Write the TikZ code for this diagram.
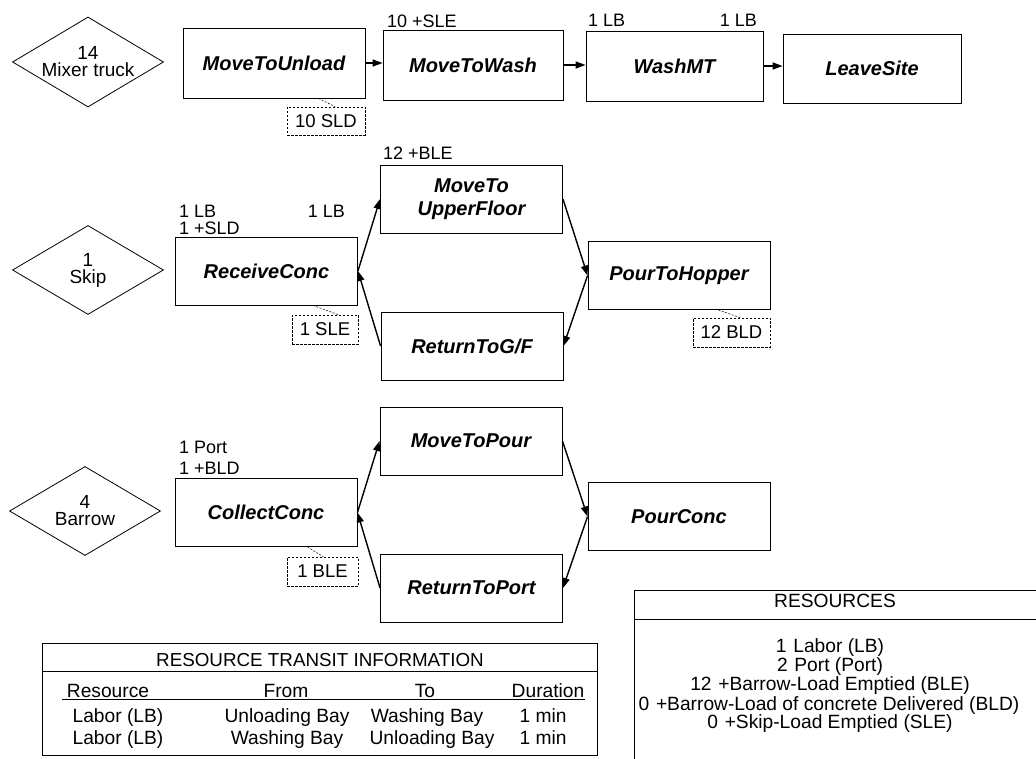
\documentclass[tikz,border=0pt]{standalone}
\usepackage{fontspec}
\setmainfont{Liberation Sans}
\usetikzlibrary{arrows.meta,shapes.geometric}
\begin{document}
\begin{tikzpicture}[x=1pt,y=-1pt,
  font=\fontsize{18}{19}\selectfont,
  act/.style={draw, line width=0.9pt, minimum width=182pt, minimum height=68pt, inner sep=0pt,
    font=\fontsize{20}{23}\selectfont\bfseries\itshape, align=center},
  res/.style={draw, line width=0.6pt, dash pattern=on 2.5pt off 1.5pt, inner sep=0pt, minimum height=29pt,
    font=\fontsize{18.5}{20}\selectfont},
  qnode/.style={draw, diamond, aspect=1.66, line width=0.8pt, minimum width=151pt, minimum height=90pt,
    inner sep=0pt, align=center, font=\fontsize{19}{20}\selectfont},
  arr/.style={line width=1.4pt, -{Triangle[length=10pt,width=7pt]}},
  tie/.style={line width=0.5pt, dash pattern=on 2pt off 1.5pt},
  lbl/.style={inner sep=0pt, anchor=base west},
  cell/.style={inner sep=0pt, anchor=base, font=\fontsize{19.2}{20}\selectfont},
  frame/.style={line width=0.8pt},
]
\useasboundingbox (0,0) rectangle (1036,759);

% resource queues
\node[qnode] (mix) at (88,62) {14\\[-3pt]Mixer truck};
\node[qnode, minimum height=89pt] (skip) at (88,270) {1\\[-3pt]Skip};
\node[qnode, minimum height=89pt] (bar) at (85,511) {4\\[-3pt]Barrow};

% row 1
\node[act, minimum height=70pt] (mtu) at (274,63) {MoveToUnload};
\node[act, minimum height=70pt, minimum width=180pt] (mtw) at (473,65) {MoveToWash};
\node[act, minimum height=70pt, minimum width=177pt] (wmt) at (674.5,66) {WashMT};
\node[act, minimum height=69pt, minimum width=178pt] (lvs) at (872,68.5) {LeaveSite};

% row 2
\node[act] (rc) at (266.5,271) {ReceiveConc};
\node[act] (up) at (471.5,199) {MoveTo\\UpperFloor};
\node[act] (rtg) at (472,346) {ReturnToG/F};
\node[act] (pth) at (679,275.5) {PourToHopper};

% row 3
\node[act] (cc) at (266,512.5) {CollectConc};
\node[act] (mtp) at (471,441) {MoveToPour};
\node[act] (pc) at (679,516.5) {PourConc};
\node[act] (rtp) at (471.5,588) {ReturnToPort};

% arrows
\draw[arr] (mtu.east) -- (mtu.east -| mtw.west);
\draw[arr] (mtw.east) -- (mtw.east -| wmt.west);
\draw[arr] (wmt.east) -- (wmt.east -| lvs.west);
\draw[arr] (rc.east) -- (up.west);
\draw[arr] (up.east) -- (pth.west);
\draw[arr] (pth.west) -- (rtg.east);
\draw[arr] (rtg.west) -- (rc.east);
\draw[arr] (cc.east) -- (mtp.west);
\draw[arr] (mtp.east) -- (pc.west);
\draw[arr] (pc.west) -- (rtp.east);
\draw[arr] (rtp.west) -- (cc.east);

% resource annotations
\node[lbl] (a1) at (387,28) {10 +SLE};
\node[lbl] (a2) at (588,27) {1 LB};
\node[lbl, anchor=base east] (a3) at (757,27) {1 LB};
\node[lbl] (a4) at (383,160) {12 +BLE};
\node[lbl] (a5) at (179,218) {1 LB};
\node[lbl] (a6) at (179,235) {1 +SLD};
\node[lbl, anchor=base east] (a7) at (345,218) {1 LB};
\node[lbl] (a8) at (179,453) {1 Port};
\node[lbl] (a9) at (179,474) {1 +BLD};

% released resources
\node[res, minimum width=78pt, minimum height=28pt] (sld) at (326,121) {10 SLD};
\node[res, minimum width=66pt] (sle) at (325,329.5) {1 SLE};
\node[res, minimum width=77pt] (bld) at (731.5,332.5) {12 BLD};
\node[res, minimum width=71pt] (ble) at (322.5,571.5) {1 BLE};
\draw[tie] ([xshift=-47pt]mtu.south east) -- ([xshift=-30pt]sld.north east);
\draw[tie] ([xshift=-45pt]rc.south east) -- ([xshift=-20pt]sle.north east);
\draw[tie] ([xshift=-52pt]pth.south east) -- ([xshift=-30pt]bld.north east);
\draw[tie] ([xshift=-50pt]cc.south east) -- ([xshift=-35pt]ble.north east);

% transit table
\draw[frame] (42,643) rectangle (597,755);
\draw[frame] (42,671) -- (597,671);
\node[cell, font=\fontsize{18.8}{20}\selectfont] (tth) at (320,666) {RESOURCE TRANSIT INFORMATION};
\draw[line width=1pt] (62,699) -- (585,699);
\node[cell] (h1) at (108,697) {Resource};
\node[cell] (h2) at (286,697) {From};
\node[cell] (h3) at (425,697) {To};
\node[cell] (h4) at (548,697) {Duration};
\node[cell] (r11) at (118,722) {Labor (LB)};
\node[cell] (r12) at (287,722) {Unloading Bay};
\node[cell] (r13) at (427,722) {Washing Bay};
\node[cell] (r14) at (543,722) {1 min};
\node[cell] (r21) at (118,744) {Labor (LB)};
\node[cell] (r22) at (287,744) {Washing Bay};
\node[cell] (r23) at (432,744) {Unloading Bay};
\node[cell] (r24) at (543,744) {1 min};

% resources box
\draw[frame] (1036,590) -- (634,590) -- (634,759);
\draw[frame] (634,619) -- (1036,619);
\node[cell] (rh) at (835,607) {RESOURCES};
\node[cell] (s1) at (830,652) {1\hspace{0.35em}Labor (LB)};
\node[cell] (s2) at (830,671) {2\hspace{0.35em}Port (Port)};
\node[cell] (s3) at (830,690) {12\hspace{0.35em}+Barrow-Load Emptied (BLE)};
\node[cell] (s4) at (829,710) {0\hspace{0.35em}+Barrow-Load of concrete Delivered (BLD)};
\node[cell] (s5) at (830,728) {0\hspace{0.35em}+Skip-Load Emptied (SLE)};
\end{tikzpicture}
\end{document}
